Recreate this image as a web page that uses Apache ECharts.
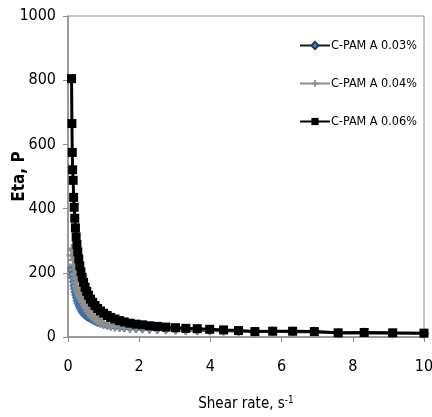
<!DOCTYPE html>
<html>
<head>
<meta charset="utf-8">
<script src="https://cdn.jsdelivr.net/npm/echarts@6/dist/echarts.min.js"></script>
<style>
  html, body { margin: 0; padding: 0; background: #fff; }
  #chart { width: 432px; height: 417px; }
</style>
</head>
<body>
<div id="chart"></div>
<script>
// shear rate values (s^-1)
const shearRate = [0.1, 0.11, 0.12, 0.13, 0.145, 0.158, 0.174, 0.19, 0.209, 0.229,
  0.251, 0.275, 0.302, 0.331, 0.363, 0.398, 0.437, 0.479, 0.525, 0.575,
  0.631, 0.692, 0.759, 0.832, 0.912, 1.0, 1.1, 1.2, 1.32, 1.45,
  1.58, 1.74, 1.91, 2.09, 2.29, 2.51, 2.75, 3.02, 3.31, 3.63,
  3.98, 4.37, 4.79, 5.25, 5.75, 6.31, 6.92, 7.59, 8.32, 9.12, 10.0];

const eta003 = [215, 205, 195, 185, 172, 160, 150, 140, 131, 122,
  113, 105, 97, 90, 83, 77, 72, 67, 63, 59,
  56, 52, 48, 44, 41, 38, 36, 34, 32, 30,
  28, 27, 26, 25, 24, 23, 22, 21, 20, 19,
  19, 18, 17, 16, 16, 15, 15, 12, 12, 11, 11];

const eta004 = [255, 275, 270, 255, 240, 225, 210, 195, 182, 170,
  158, 148, 139, 132, 125, 117, 110, 100, 90, 81,
  73, 65, 58, 52, 46, 41, 38, 35, 33, 31,
  30, 29, 28, 27, 26, 25, 24, 23, 22, 21,
  21, 20, 19, 16, 17, 16, 16, 12, 13, 12, 11];

const eta006 = [805, 665, 575, 521, 488, 435, 404, 370, 340, 312,
  288, 265, 243, 222, 203, 186, 170, 155, 142, 130,
  118, 108, 98, 89, 81, 74, 67, 61, 56, 51,
  47, 43, 40, 38, 35, 33, 31, 29, 27, 26,
  24, 22, 20, 17, 18, 18, 17, 13, 14, 13, 12];

const seriesNames = ['C-PAM A 0.03%', 'C-PAM A 0.04%', 'C-PAM A 0.06%'];
const xTicks = [0, 2, 4, 6, 8, 10];
const yTicks = [0, 200, 400, 600, 800, 1000];

const pairs = (ys) => shearRate.map((x, i) => [x, ys[i]]);
const font = "'Liberation Sans Narrow', 'DejaVu Sans Condensed', 'Liberation Sans', sans-serif";

const chart = echarts.init(document.getElementById('chart'));
chart.setOption({
  animation: false,
  grid: {
    left: 68, right: 8, top: 16, bottom: 80,
    containLabel: false,
    outerBoundsMode: 'none',
    show: true,
    borderColor: '#8c8c8c',
    borderWidth: 1
  },
  legend: {
    data: seriesNames,
    orient: 'vertical',
    left: 294,
    top: 34,
    itemGap: 25,
    itemWidth: 30,
    itemHeight: 9,
    textStyle: {fontFamily: font, fontSize: 12.5, color: '#000', padding: [0, 0, 0, -4]}
  },
  xAxis: {
    type: 'value',
    min: xTicks[0],
    max: xTicks[xTicks.length - 1],
    interval: 2,
    name: 'Shear rate, s{sup|-1}',
    nameLocation: 'middle',
    nameGap: 58,
    nameMoveOverlap: false,
    nameTextStyle: {
      fontFamily: font, fontSize: 15, color: '#000',
      rich: {sup: {fontFamily: font, fontSize: 10, color: '#000', padding: [0, 0, 8, 0]}}
    },
    axisLine: {lineStyle: {color: '#8c8c8c', width: 1.5}},
    axisTick: {show: true, length: 5, lineStyle: {color: '#8c8c8c'}},
    axisLabel: {fontFamily: font, fontSize: 16, color: '#000', margin: 22},
    splitLine: {show: false}
  },
  yAxis: {
    type: 'value',
    min: yTicks[0],
    max: yTicks[yTicks.length - 1],
    interval: 200,
    name: 'Eta, P',
    nameLocation: 'middle',
    nameGap: 40,
    nameMoveOverlap: false,
    nameTextStyle: {fontFamily: font, fontSize: 17, fontWeight: 'bold', color: '#000'},
    axisLine: {lineStyle: {color: '#8c8c8c', width: 1.5}},
    axisTick: {show: true, length: 5, lineStyle: {color: '#8c8c8c'}},
    axisLabel: {fontFamily: font, fontSize: 16, color: '#000', margin: 12, formatter: (v) => String(v)},
    splitLine: {show: false}
  },
  series: [
    {
      name: seriesNames[0],
      type: 'line',
      data: pairs(eta003),
      symbol: 'diamond',
      symbolSize: 8,
      lineStyle: {color: '#1a1a1a', width: 2},
      itemStyle: {color: '#4a7ebb', borderColor: '#1f3a5f', borderWidth: 0.5},
      z: 2
    },
    {
      name: seriesNames[1],
      type: 'line',
      data: pairs(eta004),
      symbol: 'path://M3,0 H5 V3 H8 V5 H5 V8 H3 V5 H0 V3 H3 Z',
      symbolSize: 10,
      lineStyle: {color: '#8f8f8f', width: 2.5},
      itemStyle: {color: '#8f8f8f'},
      z: 3
    },
    {
      name: seriesNames[2],
      type: 'line',
      data: pairs(eta006),
      symbol: 'rect',
      symbolSize: 9,
      lineStyle: {color: '#000', width: 3},
      itemStyle: {color: '#000'},
      z: 4
    }
  ]
});
</script>
</body>
</html>
